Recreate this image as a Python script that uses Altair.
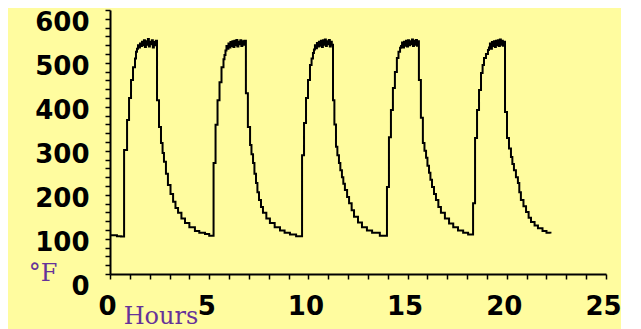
import altair as alt
import pandas as pd

# Temperature trace (step recorder trace), per segment
start_h = [0.0, 0.35, 0.55]
start_t = [88, 86, 85]

c1_h = [0.71, 0.86, 0.96, 1.06, 1.16, 1.26, 1.31,
        1.36, 1.41, 1.46, 1.51, 1.56, 1.61, 1.66, 1.71, 1.76, 1.81, 1.86, 1.91, 1.96, 2.01, 2.06, 2.11, 2.16, 2.21, 2.26, 2.31,
        2.37, 2.47, 2.57, 2.65, 2.72, 2.82, 2.92, 3.05, 3.18, 3.3, 3.43, 3.6, 3.78, 4.0, 4.28, 4.5, 4.79, 5.0]
c1_t = [282, 350, 400, 441, 470, 490, 505,
        512, 520, 515, 524, 518, 528, 520, 531, 516, 529, 521, 534, 517, 528, 522, 531, 515, 527, 520, 530,
        395, 334, 298, 275, 255, 228, 202, 182, 164, 150, 139, 126, 116, 106, 98, 94, 91, 87]

c2_h = [5.22, 5.32, 5.42, 5.52, 5.62, 5.72, 5.77,
        5.82, 5.87, 5.92, 5.97, 6.02, 6.07, 6.12, 6.17, 6.22, 6.27, 6.32, 6.37, 6.42, 6.47, 6.52, 6.57, 6.62, 6.67, 6.72, 6.77,
        6.85, 6.95, 7.06, 7.13, 7.21, 7.28, 7.36, 7.43, 7.51, 7.61, 7.71, 7.88, 8.06, 8.3, 8.57, 8.8, 9.07, 9.38]
c2_t = [252, 339, 395, 436, 470, 488, 498,
        508, 518, 512, 524, 515, 527, 518, 529, 516, 530, 520, 532, 517, 528, 522, 531, 518, 529, 521, 530,
        411, 334, 293, 272, 252, 228, 207, 186, 168, 152, 139, 126, 116, 106, 99, 94, 90, 86]

c3_h = [9.68, 9.78, 9.88, 9.98, 10.08, 10.16, 10.23,
        10.28, 10.33, 10.38, 10.43, 10.48, 10.53, 10.58, 10.63, 10.68, 10.73, 10.78, 10.83, 10.88, 10.93, 10.98, 11.03, 11.08, 11.13, 11.18,
        11.24, 11.31, 11.39, 11.46, 11.54, 11.61, 11.69, 11.76, 11.84, 11.95, 12.05, 12.18, 12.3, 12.5, 12.7, 12.95, 13.21, 13.6]
c3_t = [270, 343, 400, 441, 475, 490, 502,
        510, 520, 513, 525, 517, 528, 519, 530, 516, 531, 521, 533, 518, 529, 522, 532, 517, 528, 521,
        395, 340, 289, 270, 252, 236, 220, 205, 191, 175, 161, 145, 130, 117, 106, 99, 94, 87]

c4_h = [13.96, 14.06, 14.16, 14.26, 14.36, 14.46, 14.54, 14.62,
        14.67, 14.72, 14.77, 14.82, 14.87, 14.92, 14.97, 15.02, 15.07, 15.12, 15.17, 15.22, 15.27, 15.32, 15.37, 15.42, 15.47, 15.52,
        15.57, 15.67, 15.77, 15.85, 15.93, 16.0, 16.08, 16.15, 16.23, 16.33, 16.43, 16.55, 16.68, 16.88, 17.09, 17.3, 17.54, 17.8, 18.05]
c4_t = [198, 311, 373, 423, 459, 491, 505, 514,
        518, 526, 515, 528, 519, 530, 517, 531, 520, 529, 522, 533, 518, 530, 521, 532, 519, 529,
        441, 355, 298, 280, 264, 246, 230, 214, 198, 182, 168, 152, 139, 126, 115, 106, 99, 94, 90]

c5_h = [18.3, 18.4, 18.5, 18.6, 18.7, 18.78, 18.85, 18.95, 19.05,
        19.1, 19.15, 19.2, 19.25, 19.3, 19.35, 19.4, 19.45, 19.5, 19.55, 19.6, 19.65, 19.7, 19.75, 19.8, 19.85,
        19.91, 20.01, 20.11, 20.21, 20.28, 20.36, 20.46, 20.56, 20.63, 20.71, 20.84, 20.97, 21.1, 21.22, 21.4, 21.57, 21.8, 22.0, 22.2]
c5_t = [161, 309, 373, 418, 457, 475, 491, 500, 509,
        515, 524, 512, 527, 518, 529, 516, 530, 520, 531, 518, 533, 521, 530, 519, 528,
        368, 309, 285, 266, 250, 236, 220, 207, 186, 168, 154, 141, 128, 118, 110, 104, 98, 94, 92]

x_ticks = list(range(0, 26, 1))
y_ticks = list(range(0, 601, 20))
unit_label = ["°F"]
x_title = ["Hours"]

BG = "#FFFC9F"
PURPLE = "#663399"

hours = start_h + c1_h + c2_h + c3_h + c4_h + c5_h
temps = start_t + c1_t + c2_t + c3_t + c4_t + c5_t
df = pd.DataFrame({"hours": hours, "temp": temps})

line = alt.Chart(df).mark_line(
    interpolate="step-after", color="black", strokeWidth=2
).encode(
    x=alt.X(
        "hours:Q",
        sort=None,
        scale=alt.Scale(domain=[0, 25], nice=False, zero=True),
        axis=alt.Axis(
            values=x_ticks,
            labelExpr="datum.value % 5 == 0 ? datum.label : ''",
            title=None,
            grid=False,
            tickSize=5,
            labelPadding=14,
            labelOffset=-3,
            labelFlush=False,
        ),
    ),
    y=alt.Y(
        "temp:Q",
        scale=alt.Scale(domain=[0, 600], nice=False, zero=True),
        axis=alt.Axis(
            values=y_ticks,
            labelExpr="datum.value % 100 == 0 ? datum.label : ''",
            title=None,
            grid=False,
            tickSize=5,
            labelPadding=16,
            labelOffset=12,
            labelFlush=False,
        ),
    ),
)

f_text = alt.Chart(pd.DataFrame({"t": unit_label})).mark_text(
    font="DejaVu Serif", fontSize=24, color=PURPLE, align="center", baseline="middle"
).encode(text="t:N", x=alt.value(-67), y=alt.value(264))

h_text = alt.Chart(pd.DataFrame({"t": x_title})).mark_text(
    font="DejaVu Serif", fontSize=24, color=PURPLE, align="center", baseline="middle"
).encode(text="t:N", x=alt.value(51), y=alt.value(307))

chart = alt.layer(line, f_text, h_text).properties(
    width=496,
    height=264,
    background=BG,
    autosize=alt.AutoSizeParams(type="none"),
    padding={"left": 102, "top": 2, "right": 15, "bottom": 55},
).configure_view(
    stroke="transparent"
).configure_axis(
    domainColor="black",
    domainWidth=2,
    tickColor="black",
    tickWidth=1.5,
    labelColor="black",
    labelFont="DejaVu Sans",
    labelFontWeight="bold",
    labelFontSize=26,
)

chart.save("out.html", embed_options={"renderer": "svg", "actions": False})
